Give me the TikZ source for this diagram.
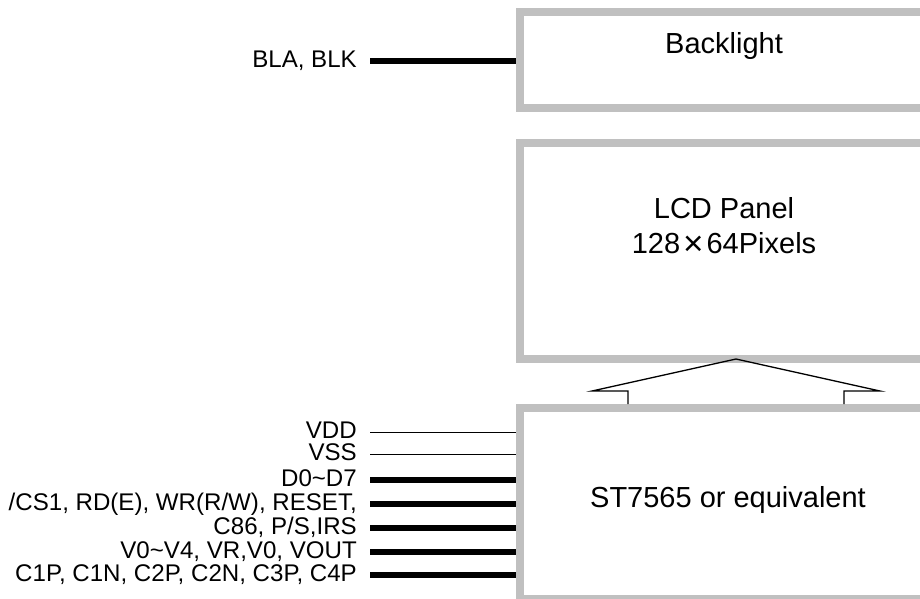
\documentclass[tikz,border=0pt]{standalone}
\usepackage{fontspec}
\setmainfont{Liberation Sans}
\definecolor{boxgray}{HTML}{C0C0C0}
\begin{document}
\begin{tikzpicture}[x=1pt,y=-1pt,
  panel/.style={draw=boxgray,line width=7.5pt,minimum width=410pt,inner sep=0pt},
  title/.style={font=\fontsize{29}{35}\selectfont,align=center,inner sep=0pt},
  pin/.style={anchor=east,inner xsep=13pt,inner ysep=0pt,text height=12pt,text depth=0pt,font=\fontsize{24.1}{24.1}\selectfont},
  bus/.style={line width=6pt},
  wire/.style={line width=1pt}]
\useasboundingbox (0,0) rectangle (920,598);
\clip (0,0) rectangle (920,598);
\node[panel,minimum height=96pt] (bl) at (725,60) {};
\node[panel,minimum height=216pt] (lcd) at (725,251) {};
\node[panel,minimum height=191pt] (st) at (725,503.5) {};
\node[title,anchor=base] (bltext) at (724,53) {Backlight};
\node[title,anchor=north] (lcdtext) at (724,197) {LCD Panel\\128\kern3pt\raisebox{-2.5pt}{\fontsize{35}{35}\selectfont\texttimes}\kern3pt64Pixels};
\node[title,anchor=base] (sttext) at (728,507) {ST7565 or equivalent};
\node[pin] (bla) at (370,61) {BLA, BLK};
\node[pin] (vdd) at (370,432) {VDD};
\node[pin] (vss) at (370,454) {VSS};
\node[pin] (data) at (370,480) {D0\textasciitilde D7};
\node[pin] (ctrl) at (370,504) {/CS1, RD(E), WR(R/W), RESET,};
\node[pin] (mode) at (370,528) {C86, P/S,IRS};
\node[pin] (volt) at (370,552) {V0\textasciitilde V4, VR,V0, VOUT};
\node[pin] (pump) at (370,575) {C1P, C1N, C2P, C2N, C3P, C4P};
\coordinate (tip) at (736,359);
\coordinate (lfoot) at (628,404);
\coordinate (rfoot) at (844,404);
\draw[bus] (bla.east) -- (bla.east -| bl.west);
\draw[wire] (vdd.east) -- (vdd.east -| st.west);
\draw[wire] (vss.east) -- (vss.east -| st.west);
\draw[bus] (data.east) -- (data.east -| st.west);
\draw[bus] (ctrl.east) -- (ctrl.east -| st.west);
\draw[bus] (mode.east) -- (mode.east -| st.west);
\draw[bus] (volt.east) -- (volt.east -| st.west);
\draw[bus] (pump.east) -- (pump.east -| st.west);
\draw[line width=1.3pt] (lfoot) -- ++(0,-13) -- ++(-36,0) -- (tip) -- (880,391) -- ++(-36,0) -- (rfoot);
\end{tikzpicture}
\end{document}
